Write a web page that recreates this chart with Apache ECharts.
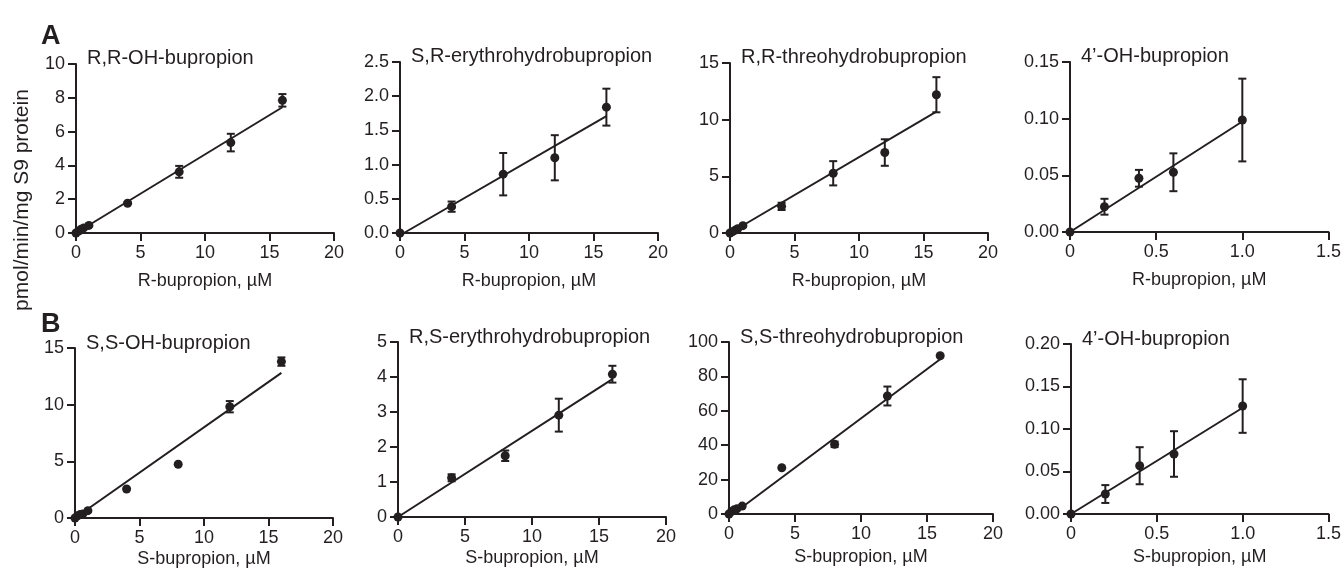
<!DOCTYPE html>
<html>
<head>
<meta charset="utf-8">
<script src="https://cdn.jsdelivr.net/npm/echarts@6/dist/echarts.min.js"></script>
<style>
  html, body { margin: 0; padding: 0; background: #fff; }
  #chart { width: 1344px; height: 574px; }
</style>
</head>
<body>
<div id="chart"></div>
<script>
// concentrations, uM
const concFull = [0, 0.2, 0.4, 0.6, 1, 4, 8, 12, 16]
const concHigh = [0, 4, 8, 12, 16]
const concLow = [0, 0.2, 0.4, 0.6, 1]

// A: R-bupropion
const rrOH = [0, 0.12, 0.22, 0.3, 0.45, 1.76, 3.62, 5.35, 7.85]
const rrOHErr = [0, 0, 0, 0, 0.05, 0.05, 0.35, 0.52, 0.37]
const rrOHFit = [[0, 0], [16, 7.44]]

const srErythro = [0, 0.385, 0.86, 1.1, 1.84]
const srErythroErr = [0, 0.075, 0.31, 0.33, 0.27]
const srErythroFit = [[0.3, 0], [16, 1.71]]

const rrThreo = [0, 0.12, 0.25, 0.38, 0.65, 2.35, 5.27, 7.1, 12.2]
const rrThreoErr = [0, 0, 0, 0, 0, 0.32, 1.07, 1.17, 1.55]
const rrThreoFit = [[0, 0], [16, 10.7]]

const rOH4 = [0, 0.0223, 0.0474, 0.0527, 0.0988]
const rOH4Err = [0, 0.007, 0.0074, 0.0167, 0.0365]
const rOH4Fit = [[0, 0], [1, 0.0975]]

// B: S-bupropion
const ssOH = [0, 0.2, 0.3, 0.35, 0.65, 2.56, 4.74, 9.82, 13.8]
const ssOHErr = [0, 0, 0, 0, 0, 0, 0, 0.5, 0.37]
const ssOHFit = [[0, 0], [16, 12.8]]

const rsErythro = [0, 1.12, 1.75, 2.91, 4.08]
const rsErythroErr = [0, 0.1, 0.15, 0.47, 0.24]
const rsErythroFit = [[0, 0], [16, 3.94]]

const ssThreo = [0, 1.5, 2.5, 3, 4.6, 26.9, 40.5, 68.6, 92]
const ssThreoErr = [0, 0, 0, 0, 0, 0, 1.6, 5.5, 0]
const ssThreoFit = [[0.3, 0], [16, 90]]

const sOH4 = [0, 0.0235, 0.0568, 0.0706, 0.127]
const sOH4Err = [0, 0.0105, 0.0218, 0.0268, 0.0315]
const sOH4Fit = [[0, 0], [1, 0.125]]

const panels = [
  { title: 'R,R-OH-bupropion', x: concFull, y: rrOH, err: rrOHErr, fit: rrOHFit, xName: 'R-bupropion, µM', xMax: 20, xInt: 5, yMax: 10, yInt: 2, yDec: 0 },
  { title: 'S,R-erythrohydrobupropion', x: concHigh, y: srErythro, err: srErythroErr, fit: srErythroFit, xName: 'R-bupropion, µM', xMax: 20, xInt: 5, yMax: 2.5, yInt: 0.5, yDec: 1 },
  { title: 'R,R-threohydrobupropion', x: concFull, y: rrThreo, err: rrThreoErr, fit: rrThreoFit, xName: 'R-bupropion, µM', xMax: 20, xInt: 5, yMax: 15, yInt: 5, yDec: 0 },
  { title: '4’-OH-bupropion', x: concLow, y: rOH4, err: rOH4Err, fit: rOH4Fit, xName: 'R-bupropion, µM', xMax: 1.5, xInt: 0.5, yMax: 0.15, yInt: 0.05, yDec: 2 },
  { title: 'S,S-OH-bupropion', x: concFull, y: ssOH, err: ssOHErr, fit: ssOHFit, xName: 'S-bupropion, µM', xMax: 20, xInt: 5, yMax: 15, yInt: 5, yDec: 0 },
  { title: 'R,S-erythrohydrobupropion', x: concHigh, y: rsErythro, err: rsErythroErr, fit: rsErythroFit, xName: 'S-bupropion, µM', xMax: 20, xInt: 5, yMax: 5, yInt: 1, yDec: 0 },
  { title: 'S,S-threohydrobupropion', x: concFull, y: ssThreo, err: ssThreoErr, fit: ssThreoFit, xName: 'S-bupropion, µM', xMax: 20, xInt: 5, yMax: 100, yInt: 20, yDec: 0 },
  { title: '4’-OH-bupropion', x: concLow, y: sOH4, err: sOH4Err, fit: sOH4Fit, xName: 'S-bupropion, µM', xMax: 1.5, xInt: 0.5, yMax: 0.2, yInt: 0.05, yDec: 2 }
]

const boxes = [
  { left: 76, top: 64, width: 258, height: 169, gap: 39 },
  { left: 400, top: 62, width: 258, height: 171, gap: 39 },
  { left: 730, top: 63, width: 258, height: 170, gap: 39 },
  { left: 1070, top: 62, width: 260, height: 170, gap: 39 },
  { left: 75, top: 348, width: 258, height: 170, gap: 32 },
  { left: 398, top: 342, width: 268, height: 175, gap: 32 },
  { left: 729, top: 342, width: 264, height: 172, gap: 34 },
  { left: 1071, top: 344, width: 259, height: 170, gap: 34 }
]

const ink = '#231f20'
const font = 'Liberation Sans, Arial, Helvetica, sans-serif'

const chart = echarts.init(document.getElementById('chart'))

const grid = [], xAxis = [], yAxis = [], series = [], title = []

panels.forEach(function (p, i) {
  const b = boxes[i]
  grid.push({ left: b.left, top: b.top, width: b.width, height: b.height })
  title.push({
    text: p.title, left: b.left + 6, top: b.top - (i < 4 ? 21 : 20),
    textStyle: { fontFamily: font, fontSize: 20, fontWeight: 'normal', color: ink }
  })
  xAxis.push({
    gridIndex: i, type: 'value', min: 0, max: p.xMax, interval: p.xInt,
    name: p.xName, nameLocation: 'middle', nameGap: b.gap,
    nameTextStyle: { fontFamily: font, fontSize: 18, color: ink },
    axisLine: { onZero: false, lineStyle: { color: ink, width: 2 } },
    axisTick: { length: 8, lineStyle: { color: ink, width: 2 } },
    axisLabel: {
      margin: 11, fontFamily: font, fontSize: 18, color: ink,
      formatter: function (v) { return p.xInt < 1 ? (v === 0 ? '0' : v.toFixed(1)) : String(v) }
    },
    splitLine: { show: false }
  })
  yAxis.push({
    gridIndex: i, type: 'value', min: 0, max: p.yMax, interval: p.yInt,
    axisLine: { show: true, lineStyle: { color: ink, width: 2 } },
    axisTick: { show: true, length: 8, lineStyle: { color: ink, width: 2 } },
    axisLabel: {
      margin: 11, fontFamily: font, fontSize: 18, color: ink,
      formatter: function (v) { return v.toFixed(p.yDec) }
    },
    splitLine: { show: false }
  })
  // fitted line
  series.push({
    type: 'line', xAxisIndex: i, yAxisIndex: i, data: p.fit,
    showSymbol: false, silent: true,
    lineStyle: { color: ink, width: 2 }, z: 2
  })
  // error bars
  const bars = []
  p.x.forEach(function (xv, k) {
    if (p.err[k] > 0) bars.push([xv, p.y[k] - p.err[k], p.y[k] + p.err[k]])
  })
  series.push({
    type: 'custom', xAxisIndex: i, yAxisIndex: i, data: bars, silent: true, z: 3,
    renderItem: function (params, api) {
      const lo = api.coord([api.value(0), api.value(1)])
      const hi = api.coord([api.value(0), api.value(2)])
      const w = 4
      const st = { stroke: ink, lineWidth: 2 }
      return {
        type: 'group',
        children: [
          { type: 'line', shape: { x1: lo[0], y1: lo[1], x2: hi[0], y2: hi[1] }, style: st },
          { type: 'line', shape: { x1: hi[0] - w, y1: hi[1], x2: hi[0] + w, y2: hi[1] }, style: st },
          { type: 'line', shape: { x1: lo[0] - w, y1: lo[1], x2: lo[0] + w, y2: lo[1] }, style: st }
        ]
      }
    }
  })
  // means
  series.push({
    type: 'scatter', xAxisIndex: i, yAxisIndex: i,
    data: p.x.map(function (xv, k) { return [xv, p.y[k]] }),
    symbol: 'circle', symbolSize: 9, itemStyle: { color: ink, opacity: 1 }, z: 4
  })
})

title.push({ text: 'A', left: 36, top: 18, textStyle: { fontFamily: font, fontSize: 27, fontWeight: 'bold', color: ink } })
title.push({ text: 'B', left: 36, top: 306, textStyle: { fontFamily: font, fontSize: 27, fontWeight: 'bold', color: ink } })

chart.setOption({
  animation: false,
  backgroundColor: '#fff',
  title: title,
  grid: grid,
  xAxis: xAxis,
  yAxis: yAxis,
  series: series,
  graphic: [{
    type: 'text', x: 22, y: 200, rotation: Math.PI / 2,
    style: {
      text: 'pmol/min/mg S9 protein', fill: ink,
      font: '21px ' + font, textAlign: 'center', textVerticalAlign: 'middle'
    }
  }]
})
</script>
</body>
</html>
